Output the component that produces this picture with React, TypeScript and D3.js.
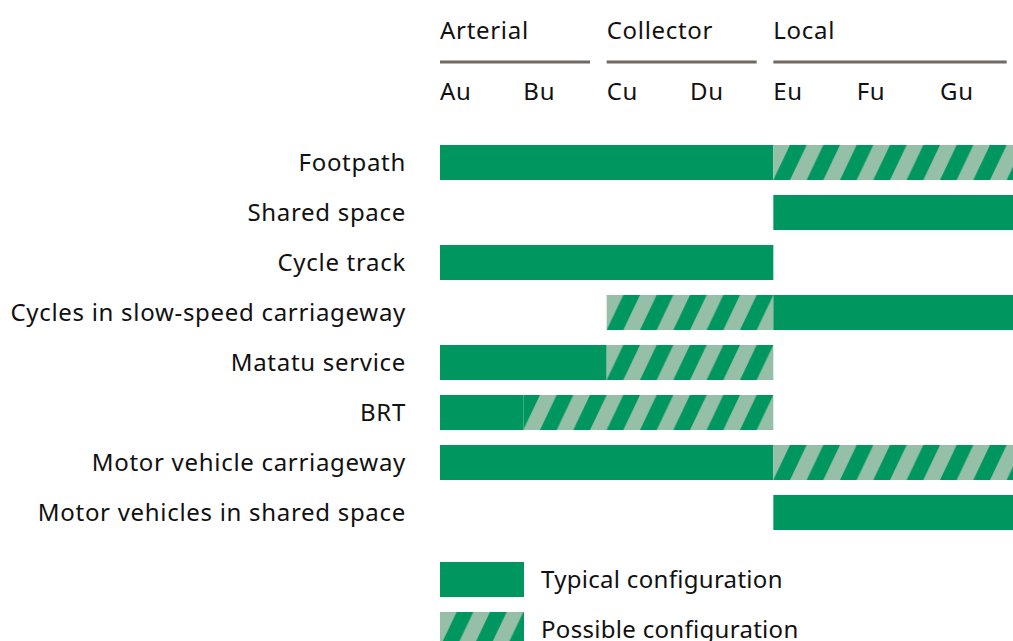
import React, { useEffect, useRef } from 'react';
import * as d3 from 'd3';

const grupos = [
  { nome: "Arterial", colunas: ["Au", "Bu"] },
  { nome: "Collector", colunas: ["Cu", "Du"] },
  { nome: "Local", colunas: ["Eu", "Fu", "Gu"] },
];

const colunas = ["Au", "Bu", "Cu", "Du", "Eu", "Fu", "Gu"];

const elementos = [
  "Footpath",
  "Shared space",
  "Cycle track",
  "Cycles in slow-speed carriageway",
  "Matatu service",
  "BRT",
  "Motor vehicle carriageway",
  "Motor vehicles in shared space",
];

// T = typical, P = possible, "" = none (one entry per column Au..Gu)
const configuracoes = [
  ["T", "T", "T", "T", "P", "P", "P"],
  ["", "", "", "", "T", "T", "T"],
  ["T", "T", "T", "T", "", "", ""],
  ["", "", "P", "P", "T", "T", "T"],
  ["T", "T", "P", "P", "", "", ""],
  ["T", "P", "P", "P", "", "", ""],
  ["T", "T", "T", "T", "P", "P", "P"],
  ["", "", "", "", "T", "T", "T"],
];

const legenda = [
  { tipo: "T", texto: "Typical configuration" },
  { tipo: "P", texto: "Possible configuration" },
];

const VERDE = "#00965f";
const VERDE_CLARO = "#95bfa6";
const TEXTO = "#111";
const LINHA = "#716a63";

export default function App() {
  const ref = useRef<SVGSVGElement>(null);

  useEffect(() => {
    const svg = d3.select(ref.current);
    svg.selectAll("*").remove();

    const x0 = 440;
    const larguraColuna = 250 / 3;
    const alturaBarra = 35;
    const fonte = "'Noto Sans', 'Open Sans', sans-serif";
    const tamanho = "24px";
    const espaco = "0.7px";

    const x = d3.scaleBand()
      .domain(colunas)
      .range([x0, x0 + larguraColuna * colunas.length])
      .paddingInner(0)
      .paddingOuter(0);

    const y = d3.scaleBand()
      .domain(elementos)
      .range([145, 145 + 50 * elementos.length])
      .paddingInner(0);

    const defs = svg.append("defs");
    const criarPadrao = (id, yTopo) => {
      const w = larguraColuna / 2.5;
      const p = defs.append("pattern")
        .attr("id", id)
        .attr("patternUnits", "userSpaceOnUse")
        .attr("x", x0)
        .attr("y", yTopo)
        .attr("width", w)
        .attr("height", alturaBarra);
      p.append("rect").attr("width", w).attr("height", alturaBarra).attr("fill", VERDE_CLARO);
      p.append("polygon")
        .attr("points", `0,${alturaBarra} ${w / 2},${alturaBarra} ${w},0 ${w / 2},0`)
        .attr("fill", VERDE);
    };

    elementos.forEach((e, i) => criarPadrao(`hatch-${i}`, y(e)));

    const g = svg.append("g")
      .attr("font-family", fonte)
      .attr("fill", TEXTO)
      .style("letter-spacing", espaco);

    // cabeçalho dos grupos
    grupos.forEach((gr) => {
      const inicio = x(gr.colunas[0]);
      const fim = x(gr.colunas[gr.colunas.length - 1]) + x.bandwidth();
      g.append("text")
        .attr("x", inicio)
        .attr("y", 39)
        .style("font-size", tamanho)
        .text(gr.nome);
      g.append("line")
        .attr("x1", inicio)
        .attr("x2", fim - larguraColuna / 5)
        .attr("y1", 62)
        .attr("y2", 62)
        .attr("stroke", LINHA)
        .attr("stroke-width", 3);
    });

    g.selectAll(".coluna")
      .data(colunas)
      .enter()
      .append("text")
      .attr("x", d => x(d))
      .attr("y", 100)
      .style("font-size", tamanho)
      .text(d => d);

    // rótulos das linhas
    g.selectAll(".rotulo")
      .data(elementos)
      .enter()
      .append("text")
      .attr("x", 406)
      .attr("y", d => y(d) + alturaBarra / 2)
      .attr("dy", "0.36em")
      .attr("text-anchor", "end")
      .style("font-size", tamanho)
      .text(d => d);

    // barras: junta colunas seguidas com o mesmo tipo
    elementos.forEach((e, i) => {
      const linha = configuracoes[i];
      let j = 0;
      while (j < linha.length) {
        const tipo = linha[j];
        let k = j;
        while (k + 1 < linha.length && linha[k + 1] === tipo) k++;
        if (tipo) {
          svg.append("rect")
            .attr("x", x(colunas[j]))
            .attr("y", y(e))
            .attr("width", x(colunas[k]) + x.bandwidth() - x(colunas[j]))
            .attr("height", alturaBarra)
            .attr("fill", tipo === "T" ? VERDE : `url(#hatch-${i})`);
        }
        j = k + 1;
      }
    });

    // legenda
    legenda.forEach((l, i) => {
      const yl = 562 + i * 50;
      if (l.tipo === "P") criarPadrao("hatch-legenda", yl);
      svg.append("rect")
        .attr("x", x0)
        .attr("y", yl)
        .attr("width", 84)
        .attr("height", alturaBarra)
        .attr("fill", l.tipo === "T" ? VERDE : "url(#hatch-legenda)");
      g.append("text")
        .attr("x", 541)
        .attr("y", yl + alturaBarra / 2)
        .attr("dy", "0.36em")
        .style("font-size", tamanho)
        .style("letter-spacing", "0.3px")
        .text(l.texto);
    });
  }, []);

  return (
    <svg
      ref={ref}
      width={1013}
      height={641}
      style={{ position: "absolute", left: 0, top: 0, background: "#fff" }}
    />
  );
}
